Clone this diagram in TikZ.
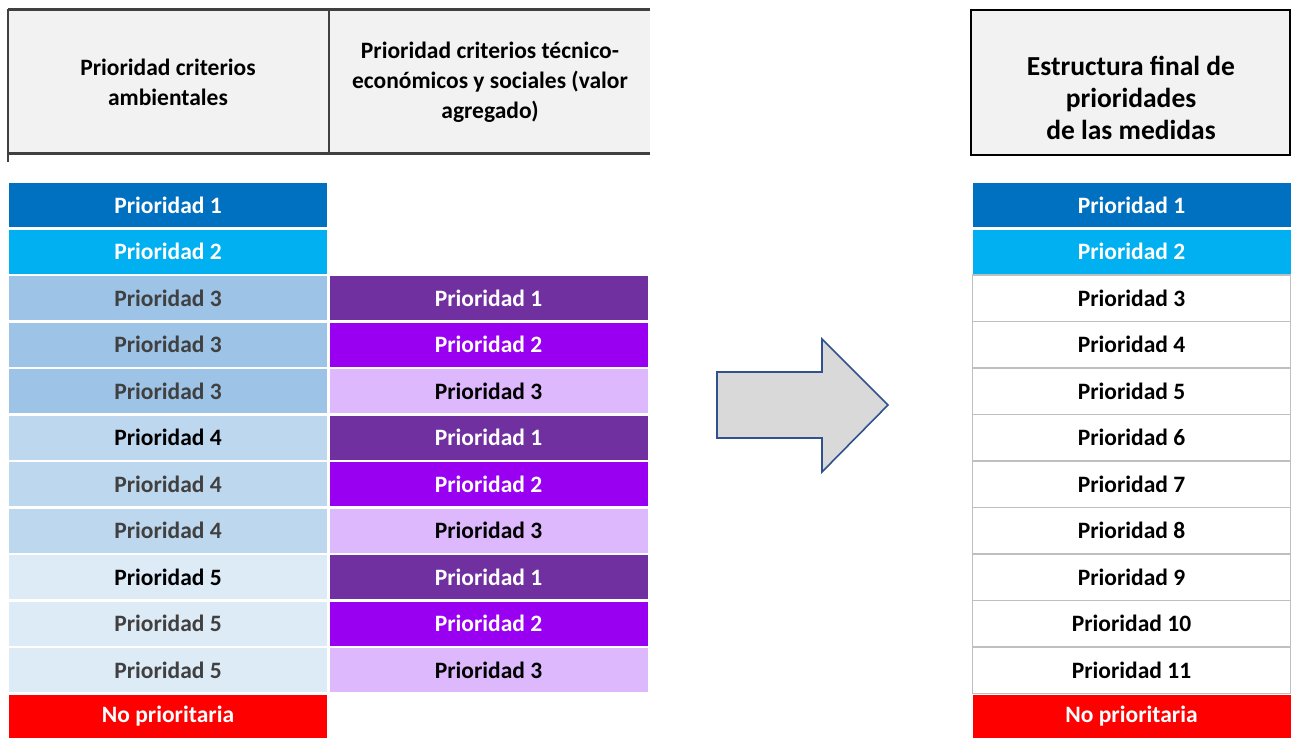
\documentclass[tikz,border=0pt]{standalone}
\usepackage{fontspec}
\setmainfont{Carlito}
\definecolor{bA}{HTML}{0070C0}
\definecolor{bB}{HTML}{00B0F0}
\definecolor{lC}{HTML}{9DC3E6}
\definecolor{lD}{HTML}{BDD7EE}
\definecolor{lE}{HTML}{DDEBF7}
\definecolor{mA}{HTML}{7030A0}
\definecolor{mB}{HTML}{9900F2}
\definecolor{mC}{HTML}{DDB8FC}
\definecolor{gtxt}{HTML}{404040}
\definecolor{hdr}{HTML}{F2F2F2}
\definecolor{hline}{HTML}{404040}
\definecolor{rbord}{HTML}{BFBFBF}
\definecolor{arrfill}{HTML}{D9D9D9}
\definecolor{arrline}{HTML}{2F528F}
\begin{document}
\begin{tikzpicture}[x=1pt,y=-1pt,
  cell/.style={minimum width=318pt,minimum height=44pt,inner sep=0pt,
    font=\bfseries\fontsize{23.5}{27}\selectfont},
  wcell/.style={cell,minimum height=46.5pt,fill=white,draw=rbord,line width=1.5pt},
  hdrtext/.style={align=center,inner sep=0pt,font=\bfseries\fontsize{23.5}{30}\selectfont},
  arrowshape/.style={fill=arrfill,draw=arrline,line width=1.6pt,line join=miter}]
\useasboundingbox (0,0) rectangle (1292,738);
% left header
\fill[hdr] (8,10) rectangle (650,154);
\draw[hline,line width=3pt] (8,10) -- (650,10);
\draw[hline,line width=3pt] (8,154) -- (650,154);
\draw[hline,line width=2.5pt] (8,9) -- (8,162);
\draw[hline,line width=2pt] (329,10) -- (329,154);
\node[hdrtext] (h1) at (168,82) {Prioridad criterios\\ambientales};
\node[hdrtext] (h2) at (490,82) {Prioridad criterios técnico-\\económicos y sociales (valor\\agregado)};
% right header
\node[draw=black,line width=2.5pt,fill=hdr,minimum width=319pt,minimum height=145pt,inner sep=0pt] (h3) at (1130.5,82.5) {};
\node[align=center,inner sep=0pt,font=\bfseries\fontsize{27.5}{32}\selectfont] (h3t) at (1131,98)
  {Estructura final de\\prioridades\\de las medidas};
% left column
\node[cell,fill=bA,text=white] (l1) at (168,205) {Prioridad 1};
\node[cell,fill=bB,text=white] (l2) at (168,251.5) {Prioridad 2};
\node[cell,fill=lC,text=gtxt] (l3) at (168,298) {Prioridad 3};
\node[cell,fill=lC,text=gtxt] (l4) at (168,344.5) {Prioridad 3};
\node[cell,fill=lC,text=gtxt] (l5) at (168,391) {Prioridad 3};
\node[cell,fill=lD,text=black] (l6) at (168,437.5) {Prioridad 4};
\node[cell,fill=lD,text=gtxt] (l7) at (168,484) {Prioridad 4};
\node[cell,fill=lD,text=gtxt] (l8) at (168,530.5) {Prioridad 4};
\node[cell,fill=lE,text=black] (l9) at (168,577) {Prioridad 5};
\node[cell,fill=lE,text=gtxt] (l10) at (168,623.5) {Prioridad 5};
\node[cell,fill=lE,text=gtxt] (l11) at (168,670) {Prioridad 5};
\node[cell,fill=red,text=white] (l12) at (168,716.5) {No prioritaria};
% middle column
\node[cell,fill=mA,text=white] (m1) at (488.5,298) {Prioridad 1};
\node[cell,fill=mB,text=white] (m2) at (488.5,344.5) {Prioridad 2};
\node[cell,fill=mC,text=black] (m3) at (488.5,391) {Prioridad 3};
\node[cell,fill=mA,text=white] (m4) at (488.5,437.5) {Prioridad 1};
\node[cell,fill=mB,text=white] (m5) at (488.5,484) {Prioridad 2};
\node[cell,fill=mC,text=black] (m6) at (488.5,530.5) {Prioridad 3};
\node[cell,fill=mA,text=white] (m7) at (488.5,577) {Prioridad 1};
\node[cell,fill=mB,text=white] (m8) at (488.5,623.5) {Prioridad 2};
\node[cell,fill=mC,text=black] (m9) at (488.5,670) {Prioridad 3};
% right column
\node[cell,fill=bA,text=white] (r1) at (1131.5,205) {Prioridad 1};
\node[cell,fill=bB,text=white] (r2) at (1131.5,251.5) {Prioridad 2};
\node[wcell] (r3) at (1131.5,298) {Prioridad 3};
\node[wcell] (r4) at (1131.5,344.5) {Prioridad 4};
\node[wcell] (r5) at (1131.5,391) {Prioridad 5};
\node[wcell] (r6) at (1131.5,437.5) {Prioridad 6};
\node[wcell] (r7) at (1131.5,484) {Prioridad 7};
\node[wcell] (r8) at (1131.5,530.5) {Prioridad 8};
\node[wcell] (r9) at (1131.5,577) {Prioridad 9};
\node[wcell] (r10) at (1131.5,623.5) {Prioridad 10};
\node[wcell] (r11) at (1131.5,670) {Prioridad 11};
\node[cell,fill=red,text=white] (r12) at (1131.5,716.5) {No prioritaria};
% arrow
\draw[arrowshape] (717,372) -- (822,372) -- (822,339) -- (888,405) -- (822,472) -- (822,438) -- (717,438) -- cycle;
\end{tikzpicture}
\end{document}
